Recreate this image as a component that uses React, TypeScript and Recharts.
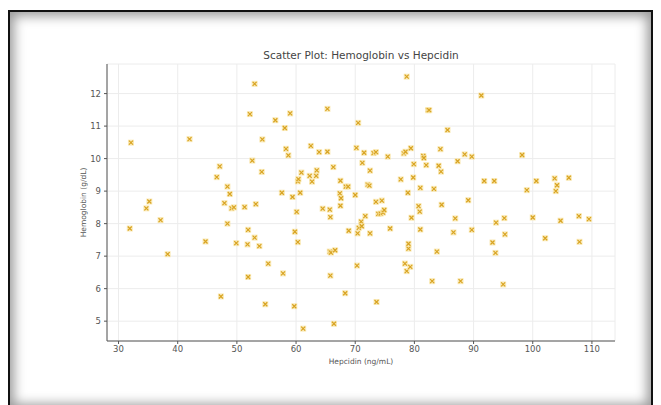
import { ScatterChart, Scatter, XAxis, YAxis, CartesianGrid } from "recharts";

// values
const hepcidin = [
  32.1, 31.9, 34.7, 35.2, 37.1, 38.3, 42.0, 44.7, 46.6, 47.1, 47.3, 47.9, 48.4, 48.8, 48.4, 49.1,
  49.5, 49.9, 51.3, 51.9, 51.8, 51.9, 52.2, 52.6, 53.0, 53.2, 53.0, 53.8, 54.2, 54.3, 54.8, 55.3,
  56.5, 57.6, 57.8, 58.1, 58.3, 58.7, 59.0, 59.4, 59.7, 59.8, 60.1, 60.3, 60.3, 60.4, 60.7, 60.9,
  61.2, 62.3, 62.5, 62.7, 63.4, 63.5, 63.9, 64.5, 65.3, 65.3, 65.7, 65.8, 65.7, 65.8, 65.9, 66.3,
  66.6, 66.4, 67.5, 67.4, 67.5, 67.6, 68.3, 68.4, 68.8, 68.9, 70.0, 70.2, 70.3, 70.4, 70.6, 70.5,
  71.0, 71.1, 71.2, 71.5, 71.7, 72.1, 72.5, 72.4, 72.5, 73.1, 73.5, 73.6, 73.5, 73.9, 74.3, 74.5,
  74.7, 74.9, 75.5, 75.9, 77.7, 78.2, 78.5, 78.4, 78.7, 78.7, 78.9, 79.0, 79.0, 79.3, 79.4, 79.5,
  79.8, 79.9, 81.0, 80.7, 80.9, 81.0, 81.5, 81.6, 82.0, 82.3, 82.5, 83.8, 83.0, 83.3, 84.1, 84.4,
  84.5, 84.6, 85.6, 86.6, 86.9, 87.3, 87.8, 88.5, 89.1, 89.7, 89.7, 91.3, 91.8, 93.5, 93.2, 93.7,
  93.8, 95.0, 95.2, 95.3, 98.2, 99.0, 100.0, 100.6, 102.1, 103.7, 103.9, 104.1, 104.7, 106.1, 107.8,
  107.9, 109.5,
];

const hemoglobin = [
  10.49, 7.85, 8.47, 8.68, 8.11, 7.06, 10.6, 7.45, 9.43, 9.76, 5.76, 8.63, 9.14, 8.91, 8.0, 8.47,
  8.5, 7.4, 8.51, 7.81, 7.36, 6.36, 11.37, 9.94, 12.3, 8.6, 7.57, 7.31, 9.59, 10.59, 5.52, 6.77,
  11.18, 8.95, 6.47, 10.94, 10.3, 10.1, 11.39, 8.82, 5.46, 7.75, 8.36, 7.43, 9.3, 9.37, 8.95, 9.57,
  4.77, 9.47, 10.39, 9.29, 9.47, 9.64, 10.2, 8.46, 10.21, 11.53, 8.43, 8.2, 7.14, 6.4, 7.11, 9.74,
  7.18, 4.92, 9.32, 8.93, 8.55, 8.78, 5.86, 9.14, 9.14, 7.78, 8.88, 10.33, 6.71, 7.7, 7.87, 11.1,
  8.06, 7.92, 9.87, 10.18, 8.23, 9.2, 9.63, 9.17, 7.7, 10.17, 10.2, 5.59, 8.67, 8.3, 8.31, 8.71,
  8.34, 8.42, 10.06, 7.85, 9.36, 10.16, 10.21, 6.77, 6.54, 12.52, 8.95, 7.23, 7.38, 6.67, 10.32, 8.18,
  9.42, 9.83, 9.1, 8.54, 8.37, 7.82, 10.08, 10.02, 9.8, 11.49, 11.49, 7.14, 6.23, 9.07, 9.78, 10.29,
  9.6, 8.58, 10.88, 7.73, 8.16, 9.92, 6.23, 10.13, 8.72, 10.06, 7.81, 11.94, 9.31, 9.31, 7.42, 7.1,
  8.03, 6.13, 8.17, 7.67, 10.11, 9.03, 8.19, 9.31, 7.55, 9.39, 9.0, 9.18, 8.09, 9.41, 8.23,
  7.44, 8.14,
];

const xTicks = [30, 40, 50, 60, 70, 80, 90, 100, 110];
const yTicks = [5, 6, 7, 8, 9, 10, 11, 12];

const points = hepcidin.map((x, i) => ({ x, y: hemoglobin[i] }));

const FONT = "'DejaVu Sans', sans-serif";

const Marker = (props: any) => {
  const { cx, cy } = props;
  if (cx == null || cy == null) return null;
  return (
    <g>
      <rect x={cx - 3} y={cy - 3} width={6} height={6} fill="#f8e3a0" opacity={0.75} />
      <path
        d={`M${cx - 2},${cy - 2}L${cx + 2},${cy + 2}M${cx - 2},${cy + 2}L${cx + 2},${cy - 2}`}
        stroke="#d8a321"
        strokeWidth={1.2}
      />
    </g>
  );
};

export default function App() {
  return (
    <div style={{ position: "absolute", left: 0, top: 0, width: 661, height: 405, background: "#fff", overflow: "hidden" }}>
      <div
        style={{
          position: "absolute",
          left: 8,
          top: 10,
          width: 645,
          height: 400,
          boxSizing: "border-box",
          border: "2px solid #111",
          boxShadow: "inset 0 0 12px 4px rgba(0,0,0,0.4)",
        }}
      />
      <div
        style={{
          position: "absolute",
          left: 107,
          width: 508,
          top: 49,
          textAlign: "center",
          fontFamily: FONT,
          fontSize: 10.5,
          color: "#444",
        }}
      >
        Scatter Plot: Hemoglobin vs Hepcidin
      </div>
      <ScatterChart
        width={661}
        height={405}
        margin={{ top: 64, right: 46, left: 47, bottom: 40 }}
        style={{ position: "absolute", left: 0, top: 0 }}
      >
        <CartesianGrid stroke="#ececec" strokeWidth={1} />
        <XAxis
          type="number"
          dataKey="x"
          domain={[28.05, 113.9]}
          ticks={xTicks}
          allowDataOverflow
          height={24}
          stroke="#555"
          tick={{ fill: "#555", fontSize: 8.5, fontFamily: FONT }}
          tickSize={3}
          tickMargin={2}
          label={{ value: "Hepcidin (ng/mL)", position: "insideBottom", offset: 1, fill: "#555", fontSize: 7.5, fontFamily: FONT }}
        />
        <YAxis
          type="number"
          dataKey="y"
          domain={[4.39, 12.91]}
          ticks={yTicks}
          allowDataOverflow
          width={60}
          stroke="#555"
          tick={{ fill: "#555", fontSize: 8.5, fontFamily: FONT }}
          tickSize={3}
          tickMargin={3}
          label={{ value: "Hemoglobin (g/dL)", angle: -90, position: "insideLeft", offset: 36, fill: "#555", fontSize: 7.5, fontFamily: FONT, style: { textAnchor: "middle" } }}
        />
        <Scatter data={points} shape={Marker} isAnimationActive={false} />
      </ScatterChart>
    </div>
  );
}
